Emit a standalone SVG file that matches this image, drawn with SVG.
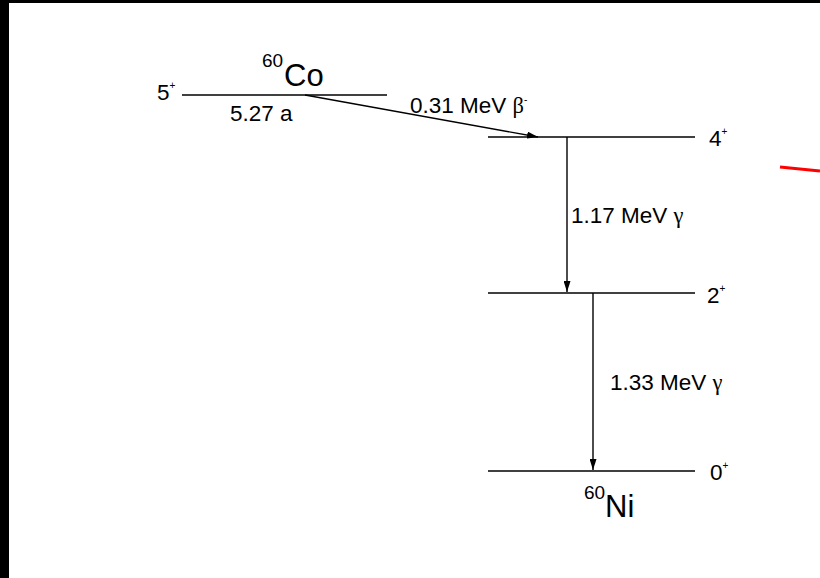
<svg xmlns="http://www.w3.org/2000/svg" width="820" height="578" viewBox="0 0 820 578">
<style>
.t{font-family:"Liberation Sans",Arial,sans-serif;fill:#000}
.lbl{font-size:22.5px}
.nuc{font-size:31px}
.mass{font-size:19px}
.sp{font-size:10px}
.g{font-family:"Liberation Serif","Times New Roman",serif}
.lvl{stroke:#000;stroke-width:1.6;fill:none}
.cn{stroke:#000;stroke-width:1.4;fill:none}
</style>
<defs>
<marker id="ah" viewBox="0 0 11 7" refX="11" refY="3.5" markerWidth="11" markerHeight="7" markerUnits="userSpaceOnUse" orient="auto">
<path d="M0,0 L11,3.5 L0,7 Z" fill="#000"/>
</marker>
</defs>
<rect x="0" y="0" width="820" height="578" fill="#fff"/>
<rect x="0" y="0" width="9" height="578" fill="#000"/>
<rect x="0" y="0" width="820" height="3" fill="#000"/>
<g id="co60">
<line class="lvl" x1="182" y1="95" x2="387" y2="95"/>
<text class="t lbl" x="157" y="100">5<tspan class="sp" dy="-11">+</tspan></text>
<text class="t mass" x="262" y="67">60</text>
<text class="t nuc" x="284" y="86">Co</text>
<text class="t lbl" x="230" y="121">5.27 a</text>
</g>
<g id="ni4">
<line class="lvl" x1="488" y1="137" x2="695" y2="137"/>
<text class="t lbl" x="709" y="146">4<tspan class="sp" dy="-11">+</tspan></text>
</g>
<g id="ni2">
<line class="lvl" x1="488" y1="293" x2="695" y2="293"/>
<text class="t lbl" x="707" y="303">2<tspan class="sp" dy="-11">+</tspan></text>
</g>
<g id="ni0">
<line class="lvl" x1="488" y1="471" x2="695" y2="471"/>
<text class="t lbl" x="710" y="480">0<tspan class="sp" dy="-11">+</tspan></text>
<text class="t mass" x="584" y="499">60</text>
<text class="t nuc" x="605" y="517">Ni</text>
</g>
<g id="connectors">
<line class="cn" x1="305" y1="95" x2="538" y2="137" marker-end="url(#ah)"/>
<line class="cn" x1="567" y1="137" x2="567" y2="292" marker-end="url(#ah)"/>
<line class="cn" x1="593" y1="293" x2="593" y2="470" marker-end="url(#ah)"/>
<text class="t lbl" x="410" y="113">0.31 MeV <tspan class="g">β</tspan><tspan class="sp" dy="-10">-</tspan></text>
<text class="t lbl" x="571" y="223">1.17 MeV <tspan class="g">γ</tspan></text>
<text class="t lbl" x="610" y="390">1.33 MeV <tspan class="g">γ</tspan></text>
</g>
<line x1="780" y1="167" x2="820" y2="171" stroke="#f00" stroke-width="3"/>
</svg>
